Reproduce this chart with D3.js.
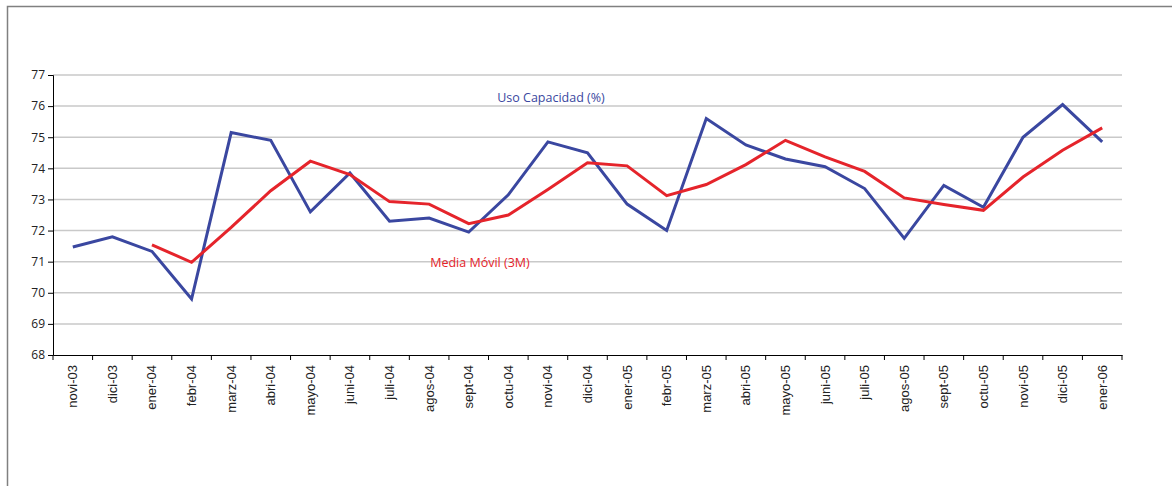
<!DOCTYPE html>
<html lang="es">
<head>
<meta charset="UTF-8">
<title>Uso Capacidad</title>
<script src="https://d3js.org/d3.v7.min.js"></script>
<style>
  body { margin: 0; background: #fff; }
  svg { display: block; }
</style>
</head>
<body>
<svg id="chart" width="1172" height="486"></svg>
<script>
// months on the x axis
var months = ["novi-03","dici-03","ener-04","febr-04","marz-04","abri-04","mayo-04","juni-04",
  "juli-04","agos-04","sept-04","octu-04","novi-04","dici-04","ener-05","febr-05","marz-05",
  "abri-05","mayo-05","juni-05","juli-05","agos-05","sept-05","octu-05","novi-05","dici-05","ener-06"];

// Uso Capacidad (%)
var uso = [71.47, 71.8, 71.33, 69.8, 75.15, 74.9, 72.6, 73.85, 72.3, 72.4, 71.95, 73.15, 74.85,
  74.5, 72.85, 72.0, 75.6, 74.75, 74.3, 74.05, 73.35, 71.75, 73.45, 72.75, 75.0, 76.05, 74.85];

// Media Movil (3M), starts at ener-04
var media = [null, null, 71.54, 70.98, 72.1, 73.28, 74.23, 73.8, 72.93, 72.85, 72.22, 72.5, 73.32,
  74.18, 74.08, 73.12, 73.48, 74.12, 74.9, 74.37, 73.9, 73.05, 72.84, 72.65, 73.72, 74.58, 75.3];

var yTicks = [68, 69, 70, 71, 72, 73, 74, 75, 76, 77];

var svg = d3.select("#chart");

// outer frame
svg.append("rect")
  .attr("x", 7.5).attr("y", 6.5)
  .attr("width", 1200).attr("height", 520)
  .attr("fill", "none")
  .attr("stroke", "#808080")
  .attr("stroke-width", 1.5);

var x = d3.scaleBand().domain(months).range([53, 1122]).padding(0);
var y = d3.scaleLinear().domain([68, 77]).range([355, 75]);

// gridlines
svg.append("g")
  .selectAll("line")
  .data(yTicks.slice(1))
  .enter().append("line")
  .attr("x1", 53).attr("x2", 1122)
  .attr("y1", function(d) { return y(d); })
  .attr("y2", function(d) { return y(d); })
  .attr("stroke", "#c9c9c9")
  .attr("stroke-width", 1.5);

// y axis
var yAxis = svg.append("g")
  .attr("transform", "translate(53,0)")
  .call(d3.axisLeft(y).tickValues(yTicks).tickSize(5).tickPadding(3));
yAxis.select(".domain").attr("stroke", "#000");
yAxis.selectAll("text")
  .attr("font-family", "Open Sans, sans-serif")
  .attr("font-size", "12px")
  .attr("fill", "#222");

// x axis
var xAxis = svg.append("g")
  .attr("transform", "translate(0,355)")
  .call(d3.axisBottom(x).tickSize(0).tickFormat(""));
xAxis.select(".domain").attr("stroke", "#000");

// ticks at band edges
var edges = months.map(function(m) { return x(m); }).concat([x.range()[1]]);
svg.append("g")
  .selectAll("line")
  .data(edges)
  .enter().append("line")
  .attr("x1", function(d) { return d; })
  .attr("x2", function(d) { return d; })
  .attr("y1", 355).attr("y2", 360)
  .attr("stroke", "#000");

svg.append("g")
  .selectAll("text")
  .data(months)
  .enter().append("text")
  .attr("transform", function(d) {
    return "translate(" + (x(d) + x.bandwidth() / 2 + 4.5) + ",365) rotate(-90)";
  })
  .attr("text-anchor", "end")
  .attr("font-family", "Liberation Sans, Arial, sans-serif")
  .attr("font-size", "13px")
  .attr("fill", "#222")
  .text(function(d) { return d; });

var cx = function(d, i) { return x(months[i]) + x.bandwidth() / 2; };

var line = d3.line()
  .defined(function(d) { return d !== null; })
  .x(cx)
  .y(function(d) { return y(d); });

svg.append("path")
  .datum(uso)
  .attr("d", line)
  .attr("fill", "none")
  .attr("stroke", "#3a47a0")
  .attr("stroke-width", 3);

svg.append("path")
  .datum(media)
  .attr("d", line)
  .attr("fill", "none")
  .attr("stroke", "#e5242b")
  .attr("stroke-width", 3);

// series labels
svg.append("text")
  .attr("x", 551).attr("y", 102)
  .attr("text-anchor", "middle")
  .attr("font-family", "Open Sans, sans-serif")
  .attr("font-size", "12.5px")
  .attr("fill", "#3a47a0")
  .text("Uso Capacidad (%)");

svg.append("text")
  .attr("x", 480).attr("y", 266.5)
  .attr("text-anchor", "middle")
  .attr("font-family", "Open Sans, sans-serif")
  .attr("font-size", "12.5px")
  .attr("fill", "#e5242b")
  .text("Media Móvil (3M)");
</script>
</body>
</html>
